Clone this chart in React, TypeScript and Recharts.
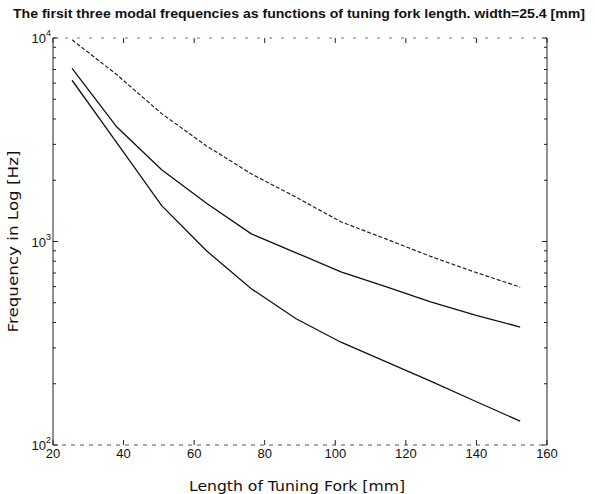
import { LineChart, Line, XAxis, YAxis, Label } from 'recharts'

// tuning fork length [mm]
const lengths = [25.4, 38.1, 50.8, 63.5, 76.2, 88.9, 101.6, 114.3, 127, 139.7, 152.4]
// modal frequencies [Hz]
const mode1 = [6200, 3050, 1500, 900, 586, 417, 320, 257, 206, 164, 131]
const mode2 = [7100, 3650, 2250, 1540, 1090, 880, 710, 600, 505, 435, 380]
const mode3 = [9800, 6600, 4250, 2950, 2150, 1650, 1250, 1030, 845, 706, 597]

const xTicks = [20, 40, 60, 80, 100, 120, 140, 160]
const decades = [100, 1000, 10000]
const yTicks = [100, 200, 300, 400, 500, 600, 700, 800, 900, 1000, 2000, 3000, 4000, 5000, 6000, 7000, 8000, 9000, 10000]

const data = lengths.map((L, i) => ({ L, m1: mode1[i], m2: mode2[i], m3: mode3[i] }))

const font = '"Liberation Sans", Arial, sans-serif'
const labelFont = '"DejaVu Sans", "Liberation Sans", sans-serif'

function LeftTick(props: any) {
  const { x, y, payload } = props
  const v = payload.value
  const major = decades.includes(v)
  const exp = Math.round(Math.log10(v))
  return (
    <g>
      <line x1={x} x2={x + (major ? 5 : 3)} y1={y} y2={y} stroke="#222" strokeWidth={1} />
      {major && (
        <text x={x - 2} y={y + 5} textAnchor="end" fontSize={13} fontFamily={font} fill="#111">
          10<tspan dy={-7} fontSize={9}>{exp}</tspan>
        </text>
      )}
    </g>
  )
}

function RightTick(props: any) {
  const { x, y, payload } = props
  const major = decades.includes(payload.value)
  return <line x1={x} x2={x - (major ? 5 : 3)} y1={y} y2={y} stroke="#222" strokeWidth={1} />
}

function BottomTick(props: any) {
  const { x, y, payload } = props
  return (
    <g>
      <line x1={x} x2={x} y1={y} y2={y - 5} stroke="#222" strokeWidth={1} />
      <text x={x} y={y + 13} textAnchor="middle" fontSize={13} fontFamily={font} fill="#111">
        {payload.value}
      </text>
    </g>
  )
}

function TopTick(props: any) {
  const { x, y } = props
  return <line x1={x} x2={x} y1={y} y2={y + 5} stroke="#222" strokeWidth={1} />
}

export default function App() {
  return (
    <div style={{ position: 'absolute', left: 0, top: 0, width: 595, height: 494, background: '#fff' }}>
      <LineChart width={595} height={494} data={data} margin={{ top: 37, right: 47, left: 0, bottom: 0 }}>
        <XAxis
          dataKey="L"
          type="number"
          domain={[20, 160]}
          ticks={xTicks}
          interval={0}
          height={49}
          tickSize={0}
          tickMargin={0}
          tick={<BottomTick />}
          axisLine={{ stroke: '#555', strokeDasharray: '4 5' }}
        >
          <Label
            content={({ viewBox }: any) => (
              <text
                x={viewBox.x + viewBox.width / 2 - 3}
                y={viewBox.y + 46}
                textAnchor="middle"
                fontSize={14}
                fontFamily={labelFont}
                fill="#111"
                textLength={216}
                lengthAdjust="spacingAndGlyphs"
              >
                Length of Tuning Fork [mm]
              </text>
            )}
          />
        </XAxis>
        <XAxis
          xAxisId="top"
          orientation="top"
          dataKey="L"
          type="number"
          domain={[20, 160]}
          ticks={xTicks}
          interval={0}
          height={1}
          tickSize={0}
          tickMargin={0}
          tick={<TopTick />}
          axisLine={{ stroke: '#777', strokeDasharray: '3 9' }}
        />
        <YAxis
          scale="log"
          domain={[100, 10000]}
          ticks={yTicks}
          interval={0}
          width={53}
          tickSize={0}
          tickMargin={0}
          tick={<LeftTick />}
          axisLine={{ stroke: '#222' }}
          allowDataOverflow
        >
          <Label
            content={({ viewBox }: any) => {
              const cx = 14
              const cy = viewBox.y + viewBox.height / 2
              return (
                <text
                  x={cx}
                  y={cy}
                  transform={`rotate(-90 ${cx} ${cy})`}
                  textAnchor="middle"
                  dominantBaseline="middle"
                  fontSize={14}
                  fontFamily={labelFont}
                  fill="#111"
                  textLength={182}
                  lengthAdjust="spacingAndGlyphs"
                >
                  Frequency in Log [Hz]
                </text>
              )
            }}
          />
        </YAxis>
        <YAxis
          yAxisId="right"
          orientation="right"
          scale="log"
          domain={[100, 10000]}
          ticks={yTicks}
          interval={0}
          width={1}
          tickSize={0}
          tickMargin={0}
          tick={<RightTick />}
          axisLine={{ stroke: '#222' }}
          allowDataOverflow
        />
        <Line dataKey="m1" type="linear" stroke="#111" strokeWidth={1.3} dot={false} isAnimationActive={false} />
        <Line dataKey="m2" type="linear" stroke="#111" strokeWidth={1.3} dot={false} isAnimationActive={false} />
        <Line dataKey="m3" type="linear" stroke="#222" strokeWidth={1.2} strokeDasharray="4 2" dot={false} isAnimationActive={false} />
        {/* invisible series so the mirrored box axes get drawn */}
        <Line xAxisId="top" yAxisId="right" dataKey="m1" stroke="none" dot={false} legendType="none" isAnimationActive={false} />
      </LineChart>
      <svg width={595} height={30} style={{ position: 'absolute', left: 0, top: 0 }}>
        <text
          x={299}
          y={18}
          textAnchor="middle"
          fontSize={12}
          fontWeight="bold"
          fontFamily={font}
          fill="#111"
          textLength={572}
          lengthAdjust="spacingAndGlyphs"
        >
          The firsit three modal frequencies as functions of tuning fork length. width=25.4 [mm]
        </text>
      </svg>
    </div>
  )
}
